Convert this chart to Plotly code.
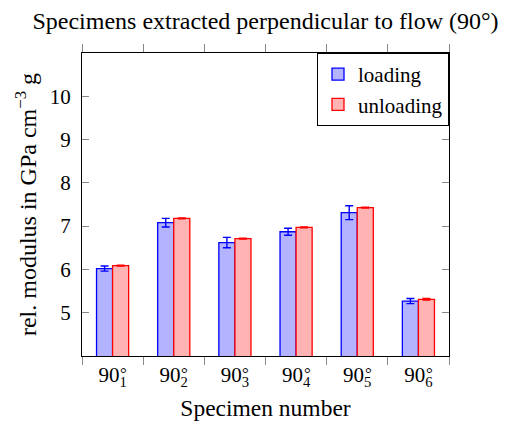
import plotly.graph_objects as go

# Specimen labels and measured relative moduli (GPa cm^-3 g)
specimens = ["1", "2", "3", "4", "5", "6"]
tick_labels = [f"90<sub>{s}</sub>" for s in specimens]
loading = [6.02, 7.08, 6.62, 6.87, 7.31, 5.27]
loading_err = [0.06, 0.10, 0.12, 0.08, 0.16, 0.06]
unloading = [6.09, 7.18, 6.71, 6.97, 7.43, 5.31]
unloading_err = [0.01, 0.01, 0.01, 0.01, 0.01, 0.02]

FONT = "Liberation Serif"


def font(size):
    return dict(family=FONT, size=size, color="black")


fig = go.Figure()
fig.add_trace(go.Bar(
    name="loading", x=specimens, y=loading,
    marker=dict(color="rgb(179,179,255)", line=dict(color="blue", width=1.3)),
    error_y=dict(type="data", array=loading_err, color="blue", thickness=1.4, width=4),
))
fig.add_trace(go.Bar(
    name="unloading", x=specimens, y=unloading,
    marker=dict(color="rgb(255,179,179)", line=dict(color="red", width=1.3)),
    error_y=dict(type="data", array=unloading_err, color="red", thickness=1.4, width=4),
))

# degree ring stacked above each subscript index (x = category position)
for idx, _ in enumerate(specimens):
    fig.add_annotation(
        x=idx, xref="x", y=0, yref="paper", text="°", showarrow=False,
        xanchor="center", yanchor="top", xshift=11, yshift=-6,
        font=font(17),
    )

fig.update_layout(
    width=507, height=431,
    margin=dict(l=82, r=58, t=53, b=75),
    paper_bgcolor="white", plot_bgcolor="white",
    font=font(21),
    barmode="group", bargap=0.475, bargroupgap=0,
    title=dict(text="Specimens extracted perpendicular to flow (90°)",
               font=font(24), x=0.5, xref="paper", xanchor="center",
               y=1, yref="paper", yanchor="bottom", pad=dict(b=24)),
    legend=dict(x=1, y=1, xanchor="right", yanchor="top",
                bordercolor="black", borderwidth=1, bgcolor="white",
                font=font(21), itemwidth=30, tracegroupgap=0),
    showlegend=True,
)
fig.update_xaxes(
    type="category", range=[-0.5, 5.5], tickson="boundaries",
    tickvals=specimens, ticktext=tick_labels, tickfont=font(21),
    ticks="outside", ticklen=8, tickcolor="#888", mirror="ticks",
    showline=True, linecolor="black", linewidth=1, showgrid=False,
    title=dict(text="Specimen number", standoff=10, font=font(23.5)),
)
fig.update_yaxes(
    range=[4, 11], tickvals=[5, 6, 7, 8, 9, 10], tickfont=font(21),
    ticks="inside", ticklen=7, tickcolor="#888", mirror="ticks",
    showline=True, linecolor="black", linewidth=1, showgrid=False,
    zeroline=False, ticklabelstandoff=6,
    title=dict(text="rel. modulus in GPa cm<sup>−3</sup> g", standoff=6,
               font=font(24)),
)

fig.write_html("out.html")
